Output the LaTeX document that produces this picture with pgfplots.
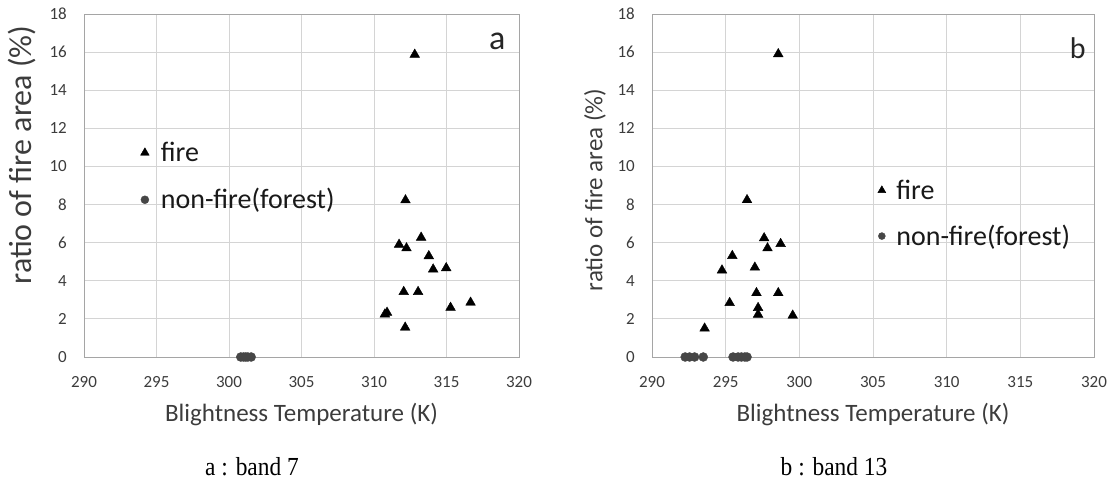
\documentclass[border=0pt]{standalone}
\usepackage{fontspec}
\setmainfont{Carlito}
\newfontfamily\capfont[FakeStretch=0.9]{Liberation Serif}
\usepackage{pgfplots}
\pgfplotsset{compat=1.18}

\definecolor{gridgray}{RGB}{212,212,212}
\definecolor{axgray}{RGB}{165,165,165}
\definecolor{txtgray}{RGB}{60,60,60}
\definecolor{dotgray}{RGB}{70,70,70}

\pgfplotsset{
  panel/.style={
    scale only axis, height=343bp,
    xmin=290, xmax=320, ymin=0, ymax=18,
    xtick distance=5, ytick distance=2,
    grid=major, grid style={gridgray, line width=0.8bp},
    axis line style={axgray, line width=0.9bp},
    major tick length=0pt,
    tick label style={font=\fontsize{17bp}{20bp}\selectfont, text=txtgray},
    /pgf/number format/assume math mode=true,
    /pgf/number format/1000 sep={},
    yticklabel style={inner sep=0pt, xshift=-17bp},
    xticklabel style={inner sep=0pt, yshift=-19bp},
    xlabel={Blightness Temperature (K)},
    ylabel={ratio of fire area (\%)},
    xlabel style={font=\fontsize{25bp}{30bp}\selectfont, text=txtgray,
      at={(axis description cs:0.5,-0.169)}, anchor=center},
    clip=false,
    legend cell align=left,
    legend image code/.code={
      \path[draw=none, fill=none] (-5bp,0bp) rectangle (5bp,20bp);
      \draw[##1] plot coordinates {(0bp,-1bp)};},
  },
  fire/.style={only marks, mark=triangle*, mark size=5.6bp, black, forget plot},
  nonfire/.style={only marks, mark=*, mark size=4.5bp, dotgray, mark options={draw=dotgray, fill=dotgray}, forget plot},
}

\begin{document}
\begin{tikzpicture}
\useasboundingbox (0,0) rectangle (1113bp,501bp);

% ---- a : band 7
\begin{axis}[panel, width=435bp, at={(84bp,144bp)}, anchor=south west,
  ylabel style={font=\fontsize{32bp}{36bp}\selectfont, text=txtgray,
    at={(axis description cs:-0.1425,0.589)}, anchor=center},
  legend style={draw=none, fill=none, inner sep=0pt, outer sep=0pt,
    font=\fontsize{28bp}{32bp}\selectfont, text=black!90,
    row sep=17bp, column sep=11bp,
    nodes={inner sep=0pt, text height=20bp, text depth=0bp},
    at={(axis cs:294.2,9.8)}, anchor=west, xshift=-5bp},
]
\addlegendimage{only marks, mark=triangle*, mark size=5bp, black}
\addlegendentry{fire}
\addlegendimage{only marks, mark=*, mark size=4bp, dotgray}
\addlegendentry{non-fire(forest)}
\addplot[fire] coordinates {
  (312.81,15.87) (312.17,8.23) (311.73,5.90) (312.24,5.71) (313.25,6.27)
  (313.78,5.30) (314.08,4.60) (314.98,4.67) (312.05,3.42) (313.04,3.42)
  (316.66,2.86) (315.28,2.59) (310.75,2.24) (310.90,2.33) (312.15,1.55)
};
\addplot[nonfire] coordinates {
  (300.81,0) (301.00,0) (301.15,0) (301.30,0) (301.53,0)
};
\node[font=\fontsize{34bp}{34bp}\selectfont, text=black!85] at (axis cs:318.5,16.58) {a};
\end{axis}

% ---- b : band 13
\begin{axis}[panel, width=442bp, at={(652bp,144bp)}, anchor=south west,
  ylabel style={font=\fontsize{25bp}{30bp}\selectfont, text=txtgray,
    at={(axis description cs:-0.129,0.487)}, anchor=center},
  legend style={draw=none, fill=none, inner sep=0pt, outer sep=0pt,
    font=\fontsize{28bp}{32bp}\selectfont, text=black!90,
    row sep=15.7bp, column sep=9.5bp,
    nodes={inner sep=0pt, text height=20bp, text depth=0bp},
    at={(axis cs:305.6,7.86)}, anchor=west, xshift=-5bp},
]
\addlegendimage{only marks, mark=triangle*, mark size=4.6bp, black}
\addlegendentry{fire}
\addlegendimage{only marks, mark=*, mark size=3.5bp, dotgray}
\addlegendentry{non-fire(forest)}
\addplot[fire] coordinates {
  (298.57,15.90) (296.45,8.24) (297.61,6.24) (297.84,5.71) (298.73,5.94)
  (295.45,5.31) (294.75,4.55) (296.98,4.70) (297.09,3.36) (298.57,3.36)
  (295.27,2.84) (297.20,2.58) (297.20,2.23) (299.55,2.18) (293.57,1.50)
};
\addplot[nonfire] coordinates {
  (292.25,0) (292.55,0) (292.89,0) (293.48,0)
  (295.50,0) (295.84,0) (296.07,0) (296.30,0) (296.45,0)
};
\node[font=\fontsize{30bp}{30bp}\selectfont, text=black!85] at (axis cs:318.9,16.2) {b};
\end{axis}

\node[font=\capfont\fontsize{26bp}{26bp}\selectfont] at (252bp,34bp) {a : band 7};
\node[font=\capfont\fontsize{26bp}{26bp}\selectfont] at (834bp,34bp) {b : band 13};
\end{tikzpicture}
\end{document}
